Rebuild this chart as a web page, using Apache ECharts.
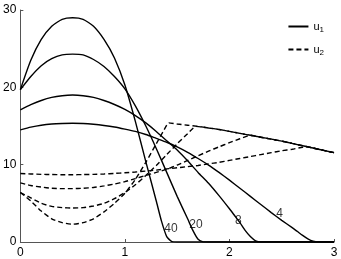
<!DOCTYPE html>
<html><head><meta charset="utf-8">
<script src="https://cdn.jsdelivr.net/npm/echarts@6/dist/echarts.min.js"></script>
<style>html,body{margin:0;padding:0;background:#fff}#c{width:341px;height:259px}</style>
</head><body><div id="c"></div>
<script>
// ---- data ----
const u1_40_x = [0,0.1,0.2,0.3,0.4,0.5,0.6,0.7,0.8,0.9,1.0,1.1,1.2,1.3,1.35,1.4,1.45,1.5,1.55,1.6,1.7,1.8,2,2.5,3];
const u1_40_y = [19.7,23.5,26.2,27.9,28.8,29.0,28.8,27.9,26.2,23.8,20.3,15.6,10.4,5.3,2.7,0.7,0.05,0,0,0,0,0,0,0,0];

const u1_20_x = [0,0.1,0.2,0.3,0.4,0.5,0.6,0.7,0.8,0.9,1.0,1.1,1.2,1.3,1.4,1.5,1.6,1.65,1.7,1.75,1.8,1.85,1.9,2,2.5,3];
const u1_20_y = [19.7,21.4,22.8,23.7,24.2,24.3,24.2,23.6,22.7,21.4,19.8,17.6,15.0,12.1,9.0,5.9,3.0,1.5,0.35,0.02,0,0,0,0,0,0];

const u1_8_x = [0,0.1,0.2,0.3,0.4,0.5,0.6,0.7,0.8,0.9,1.0,1.1,1.2,1.3,1.4,1.5,1.6,1.7,1.8,1.9,2.0,2.05,2.1,2.15,2.2,2.25,2.3,2.35,2.4,2.5,2.6,2.8,3];
const u1_8_y = [17.1,17.75,18.3,18.7,18.92,19.0,18.92,18.7,18.3,17.78,17.15,16.35,15.4,14.3,13.1,11.9,10.5,9.0,7.6,6.0,4.3,3.4,2.5,1.5,0.7,0.15,0,0,0,0,0,0,0];

const u1_4_x = [0,0.1,0.2,0.3,0.4,0.5,0.6,0.7,0.8,0.9,1.0,1.1,1.2,1.3,1.4,1.5,1.6,1.7,1.8,1.9,2.0,2.1,2.2,2.3,2.4,2.5,2.6,2.65,2.7,2.75,2.8,2.85,2.9,2.95,3];
const u1_4_y = [14.5,14.85,15.1,15.25,15.32,15.35,15.32,15.22,15.07,14.87,14.6,14.3,13.9,13.4,12.9,12.3,11.6,10.8,9.95,9.0,8.0,6.95,5.9,4.85,3.8,2.8,1.85,1.35,0.85,0.4,0.1,0,0,0,0];

const u2_40_x = [0,0.1,0.2,0.3,0.4,0.5,0.6,0.7,0.8,0.9,1.0,1.1,1.2,1.3,1.4,1.42,1.5,1.6,1.7,1.8,1.9,2.0,2.1,2.2,2.3,2.4,2.5,2.6,2.7,2.8,2.9,3.0];
const u2_40_y = [6.4,5.3,4.0,3.0,2.5,2.3,2.5,3.0,3.9,5.0,6.3,8.1,10.3,12.7,15.1,15.4,15.25,15.1,14.95,14.75,14.55,14.3,14.05,13.8,13.55,13.3,13.05,12.75,12.45,12.15,11.85,11.55];

const u2_20_x = [0,0.1,0.2,0.3,0.4,0.5,0.6,0.7,0.8,0.9,1.0,1.1,1.2,1.3,1.4,1.5,1.6,1.68,1.8,1.9,2.0,2.1,2.2,2.3,2.4,2.5,2.6,2.7,2.8,2.9,3.0];
const u2_20_y = [6.4,5.7,5.0,4.6,4.45,4.4,4.45,4.65,5.0,5.6,6.4,7.4,8.6,9.9,11.3,12.7,14.0,14.95,14.75,14.55,14.3,14.05,13.8,13.55,13.3,13.05,12.75,12.45,12.15,11.85,11.55];

const u2_8_x = [0,0.1,0.2,0.3,0.4,0.5,0.6,0.7,0.8,0.9,1.0,1.1,1.2,1.3,1.4,1.5,1.6,1.7,1.8,1.9,2.0,2.1,2.2,2.3,2.4,2.5,2.6,2.7,2.8,2.9,3.0];
const u2_8_y = [7.65,7.3,7.1,6.95,6.9,6.9,6.95,7.05,7.25,7.5,7.8,8.2,8.6,9.0,9.4,9.95,10.55,11.15,11.75,12.3,12.85,13.35,13.8,13.55,13.3,13.05,12.75,12.45,12.15,11.85,11.55];

const u2_4_x = [0,0.1,0.2,0.3,0.4,0.5,0.6,0.7,0.8,0.9,1.0,1.1,1.2,1.3,1.4,1.5,1.6,1.7,1.8,1.9,2.0,2.1,2.2,2.3,2.4,2.5,2.6,2.7,2.75,2.8,2.9,3.0];
const u2_4_y = [8.85,8.8,8.75,8.72,8.7,8.7,8.72,8.75,8.8,8.87,8.95,9.05,9.17,9.3,9.45,9.6,9.75,9.9,10.1,10.3,10.55,10.8,11.05,11.3,11.55,11.8,12.0,12.25,12.3,12.15,11.85,11.55];

const curveLabels = ['40','20','8','4'];
const labelX = [1.44,1.68,2.085,2.48];
const labelY = [1.67,2.3,2.74,3.64];

const xTickMin = 0, xTickMax = 3, xStep = 1;
const yTickMin = 0, yTickMax = 30, yStep = 10;
const legendNames = ['u1','u2'];

// ---- chart ----
const FONT = '"Liberation Sans", Arial, Helvetica, sans-serif';
const zip = (xs, ys) => xs.map((x, i) => [x, ys[i]]);
const solid = [[u1_40_x,u1_40_y],[u1_20_x,u1_20_y],[u1_8_x,u1_8_y],[u1_4_x,u1_4_y]];
const dashed = [[u2_40_x,u2_40_y],[u2_20_x,u2_20_y],[u2_8_x,u2_8_y],[u2_4_x,u2_4_y]];

const series = [];
solid.forEach(([xs, ys]) => series.push({
  name: 'u1', type: 'line', symbol: 'none', smooth: 0.2, data: zip(xs, ys),
  lineStyle: {color: '#000', width: 1.4, type: 'solid'}, itemStyle: {color: '#000'}, z: 3
}));
dashed.forEach(([xs, ys]) => series.push({
  name: 'u2', type: 'line', symbol: 'none', smooth: 0.2, data: zip(xs, ys),
  lineStyle: {color: '#000', width: 1.4, type: [5, 3]}, itemStyle: {color: '#000'}, z: 3
}));
series.push({
  name: 'labels', type: 'scatter', symbolSize: 2, itemStyle: {color: 'rgba(0,0,0,0)'},
  data: labelX.map((x, i) => [x, labelY[i], curveLabels[i]]),
  label: {show: true, position: 'inside', formatter: p => p.value[2], color: '#000', fontSize: 12, fontFamily: FONT},
  silent: true, z: 5
});

const axisCommon = {
  type: 'value',
  axisLine: {show: true, lineStyle: {color: '#555', width: 1}},
  axisTick: {show: true, inside: true, length: 3, lineStyle: {color: '#555'}},
  splitLine: {show: false},
};

const chart = echarts.init(document.getElementById('c'), null, {renderer: 'canvas'});
chart.setOption({
  animation: false,
  backgroundColor: '#fff',
  grid: {left: 19, right: 7, top: 10, bottom: 16},
  xAxis: Object.assign({}, axisCommon, {
    min: xTickMin, max: xTickMax, interval: xStep,
    axisLabel: {color: '#000', fontSize: 12, fontFamily: FONT, margin: 5}
  }),
  yAxis: Object.assign({}, axisCommon, {
    min: yTickMin, max: yTickMax, interval: yStep,
    axisLabel: {color: '#000', fontSize: 12, fontFamily: FONT, margin: 4}
  }),
  legend: {
    data: legendNames, orient: 'vertical', right: 12, top: 16,
    itemWidth: 20, itemHeight: 12, itemGap: 10,
    itemStyle: {color: 'rgba(0,0,0,0)', borderColor: 'rgba(0,0,0,0)', borderWidth: 0},
    textStyle: {
      color: '#000', fontFamily: FONT, fontSize: 11,
      rich: {
        u: {fontSize: 11, fontFamily: FONT, color: '#000'},
        s: {fontSize: 8, fontFamily: FONT, color: '#000', padding: [7, 0, 0, 0]}
      }
    },
    formatter: n => '{u|' + n.charAt(0) + '}{s|' + n.slice(1) + '}'
  },
  series: series
});
</script>
</body></html>
